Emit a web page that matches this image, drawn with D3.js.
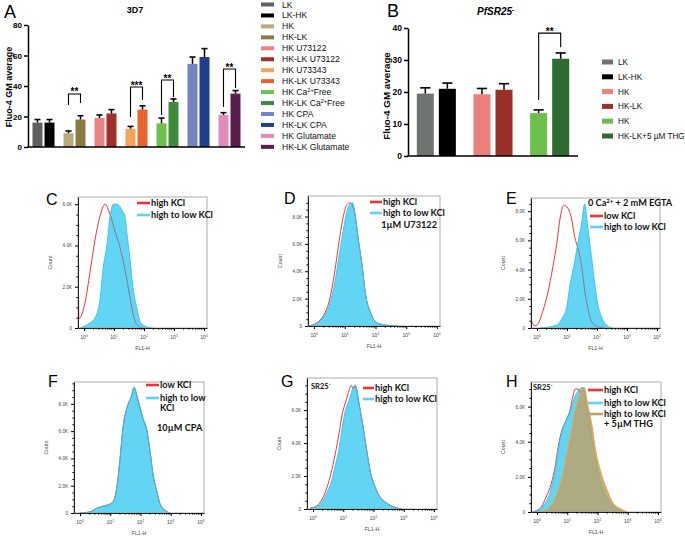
<!DOCTYPE html>
<html><head><meta charset="utf-8">
<script src="https://cdn.jsdelivr.net/npm/d3@7"></script>
<style>body{margin:0;background:#fff}svg{display:block}</style>
</head><body>
<script>
// ================= DATA =================
// Panel A (3D7)
const aLabels = ["LK","LK-HK","HK","HK-LK","HK U73122","HK-LK U73122","HK U73343","HK-LK U73343",
  "HK Ca^{2+}Free","HK-LK Ca^{2+}Free","HK CPA","HK-LK CPA","HK Glutamate","HK-LK Glutamate"];
const aMeans  = [16,16,9,18,19,22,12,24.5,15.5,29.5,54.5,59,21,35];
const aErrors = [2,2,1.5,2.5,2,2.5,1.5,2.5,3.5,2,4.5,5.5,1.5,2];
const aColors = ["#5d605e","#000000","#b9aa7c","#8b7b40","#e98480","#a0302a","#f5a25a","#e7642c",
  "#6ec14c","#3f8b3c","#7484c2","#1d3f8e","#de8cba","#5a1e4e"];
const aYTicks = [0,20,40,60,80];
const aSigPairs = [[2,3],[6,7],[8,9],[12,13]];
const aSigStars = ["**","***","**","**"];
const aSigTop = [34.8,39.3,43.9,51.1];
const aSigLeftEnd = [27.5,19.7,21,26.2];
const aSigRightEnd = [28.9,30.8,32.8,38.7];

// Panel B (PfSR25-)
const bLabels = ["LK","LK-HK","HK","HK-LK","HK","HK-LK+5 \u00b5M THG"];
const bMeans  = [19.5,21,19.3,20.7,13.4,30.4];
const bErrors = [1.8,1.8,1.8,1.9,1.0,1.8];
const bColors = ["#6f7471","#000000","#ea817c","#9b3028","#6dbf4b","#2e6b30"];
const bYTicks = [0,10,20,30,40];
const bSigPairs = [[4,5]];
const bSigStars = ["**"];
const bSigTop = [38.4];
const bSigLeftEnd = [17.5];
const bSigRightEnd = [34];

// Histograms: [log10(FL1-H), count in thousands]
const cHighKCl = [[-0.2,0],[-0.195,2.8],[-0.17,0.45],[0.03,1.2],[0.2,2.7],[0.37,4.3],[0.53,5.4],[0.7,6.0],[0.87,5.5],[1.03,4.7],[1.2,3.9],[1.37,2.8],[1.53,1.5],[1.63,0.7],[1.8,0.1],[1.97,0]];
const cHighToLow = [[-0.13,0],[0.2,0.25],[0.37,0.5],[0.53,1.35],[0.63,2.8],[0.77,4.1],[0.87,5.4],[0.97,6.0],[1.1,6.0],[1.27,5.7],[1.37,5.4],[1.43,4.6],[1.53,3.4],[1.63,2.0],[1.77,0.9],[1.87,0.3],[2.1,0.05],[2.3,0]];

const dHighKCl = [[-0.2,0],[0.1,0.25],[0.3,0.75],[0.5,1.9],[0.66,3.8],[0.75,5.2],[0.9,7.4],[1.05,8.8],[1.15,9.0],[1.25,8.8],[1.34,8.0],[1.44,6.3],[1.57,4.3],[1.67,2.4],[1.84,0.95],[2.07,0.2],[2.4,0.05],[2.72,0]];
const dHighToLow = [[-0.2,0],[0.1,0.2],[0.3,0.65],[0.52,1.7],[0.69,3.4],[0.79,4.8],[0.95,7.0],[1.11,8.7],[1.25,9.0],[1.34,8.1],[1.44,6.3],[1.57,4.3],[1.67,2.4],[1.84,0.95],[2.07,0.2],[2.4,0.05],[2.72,0]];

const eLowKCl = [[-0.2,0],[-0.195,0.5],[-0.1,0.15],[0,0.2],[0.2,1.2],[0.36,2.4],[0.53,4.2],[0.66,5.8],[0.76,7.4],[0.89,8.4],[1.03,8.2],[1.16,7.4],[1.26,6.2],[1.36,5.5],[1.49,4.2],[1.59,2.6],[1.69,1.4],[1.85,0.35],[2.08,0.05],[2.25,0]];
const eHighToLow = [[0.1,0],[0.66,0.2],[0.76,0.4],[0.86,0.75],[0.99,1.4],[1.09,2.8],[1.26,4.6],[1.36,5.8],[1.49,7.2],[1.59,8.5],[1.69,6.9],[1.82,4.8],[1.92,3.1],[2.02,1.7],[2.15,0.75],[2.32,0.2],[2.52,0]];

const fLowKCl = [[0,0],[0.33,0.08],[0.56,0.36],[0.76,0.5],[0.99,0.66],[1.09,0.82],[1.22,1.95],[1.32,3.9],[1.42,6.2],[1.55,7.7],[1.69,8.5],[1.79,9.2],[1.88,8.6],[1.98,7.7],[2.08,6.9],[2.21,6.0],[2.31,4.6],[2.41,2.9],[2.55,1.5],[2.64,0.7],[2.81,0.2],[2.98,0]];
const fHighToLow = [[0,0],[0.33,0.07],[0.56,0.35],[0.76,0.5],[0.99,0.65],[1.09,0.8],[1.22,1.9],[1.32,3.9],[1.42,6.3],[1.55,7.7],[1.69,8.5],[1.79,9.2],[1.88,8.6],[1.98,7.8],[2.08,7.0],[2.21,6.1],[2.31,4.6],[2.41,2.9],[2.55,1.5],[2.64,0.7],[2.81,0.2],[2.98,0]];

const gHighKCl = [[-0.1,0.05],[0.13,0.2],[0.3,0.6],[0.46,1.3],[0.6,2.2],[0.73,3.3],[0.86,4.6],[0.96,5.7],[1.06,6.4],[1.16,7.0],[1.26,7.5],[1.33,7.3],[1.4,7.5],[1.5,6.6],[1.6,5.6],[1.68,4.7],[1.78,3.5],[1.88,2.4],[2.05,1.35],[2.21,0.75],[2.44,0.35],[2.71,0.1],[2.94,0]];
const gHighToLow = [[-0.1,0.05],[0.13,0.15],[0.3,0.45],[0.46,1.0],[0.63,1.8],[0.73,2.6],[0.86,3.65],[0.96,4.9],[1.06,5.9],[1.19,6.6],[1.29,7.2],[1.39,7.5],[1.45,7.2],[1.55,6.1],[1.68,4.7],[1.78,3.5],[1.88,2.4],[2.05,1.35],[2.21,0.75],[2.44,0.35],[2.71,0.1],[2.94,0]];

const hHighKCl = [[-0.2,0],[0.1,0.2],[0.26,0.7],[0.43,1.4],[0.6,2.6],[0.7,3.7],[0.83,4.7],[0.93,5.1],[1.09,5.8],[1.19,6.6],[1.26,7.0],[1.36,7.0],[1.42,6.8],[1.52,7.0],[1.62,6.2],[1.75,4.9],[1.85,3.7],[1.99,2.4],[2.19,1.25],[2.42,0.5],[2.65,0.2],[2.91,0]];
const hHighToLow = [[-0.2,0],[0.1,0.15],[0.26,0.5],[0.43,1.1],[0.6,2.4],[0.76,4.1],[0.93,5.1],[1.09,5.7],[1.26,6.6],[1.42,7.0],[1.49,7.1],[1.56,6.9],[1.66,6.0],[1.79,4.7],[1.89,3.5],[2.02,2.3],[2.22,1.15],[2.45,0.45],[2.68,0.15],[2.94,0]];
const hHighToLowTHG = [[0.1,0],[0.43,0.3],[0.66,1.1],[0.83,2.0],[0.99,3.4],[1.16,4.9],[1.32,6.2],[1.49,7.0],[1.56,7.1],[1.69,6.0],[1.82,4.9],[1.92,3.7],[2.09,2.4],[2.32,1.25],[2.52,0.5],[2.75,0.2],[2.98,0]];

const histXTicks = [0,1,2,3,4];        // exponents of 10
const histYTicks = [0,2,4,6,8];        // thousands

// ================= DRAWING =================
const svg = d3.select("body").append("svg").attr("width",685).attr("height",540)
  .style("font-family","'Liberation Sans', Arial, sans-serif");
const defs = svg.append("defs");

function rich(sel, str){
  str.split(/(\^\{[^}]*\})/).forEach(p=>{
    if(!p) return;
    if(p.startsWith("^{")) sel.append("tspan").attr("baseline-shift","super").attr("font-size","65%").text(p.slice(2,-1));
    else sel.append("tspan").text(p);
  });
  return sel;
}

function barPanel(o){
  const g = svg.append("g");
  const groups = d3.range(o.means.length/2);
  const x0 = d3.scaleBand().domain(groups).range(o.xr);
  const x1 = d3.scaleBand().domain([0,1]).range([0,x0.bandwidth()]).paddingInner(o.pin).paddingOuter(o.pout);
  const y = d3.scaleLinear().domain(o.ydom).range(o.yr);
  const bx = i => x0(Math.floor(i/2)) + x1(i%2);
  const bw = x1.bandwidth();
  g.selectAll("rect.bar").data(o.means).join("rect").attr("class","bar")
    .attr("x",(d,i)=>bx(i)).attr("y",d=>y(d)).attr("width",bw).attr("height",d=>y(0)-y(d))
    .attr("fill",(d,i)=>o.colors[i]);
  const eb = g.selectAll("g.err").data(o.means).join("g").attr("class","err");
  eb.append("line").attr("x1",(d,i)=>bx(i)+bw/2).attr("x2",(d,i)=>bx(i)+bw/2)
    .attr("y1",d=>y(d)).attr("y2",(d,i)=>y(d+o.errors[i])).attr("stroke","#000").attr("stroke-width",1.5);
  eb.append("line").attr("x1",(d,i)=>bx(i)+bw*0.2).attr("x2",(d,i)=>bx(i)+bw*0.8)
    .attr("y1",(d,i)=>y(d+o.errors[i])).attr("y2",(d,i)=>y(d+o.errors[i])).attr("stroke","#000").attr("stroke-width",1.6);
  // axes
  const ax = g.append("g").attr("transform",`translate(${o.xr[0]},0)`)
    .call(d3.axisLeft(y).tickValues(o.yticks).tickSize(4).tickSizeOuter(0).tickPadding(2));
  ax.select(".domain").attr("stroke-width",1.5);
  ax.selectAll(".tick line").attr("stroke-width",1.5);
  ax.selectAll("text").attr("font-size",o.tickFont).attr("font-weight","bold").attr("font-family","'Liberation Sans', Arial");
  g.append("line").attr("x1",o.xr[0]-0.75).attr("x2",o.xr[1]).attr("y1",y(0)).attr("y2",y(0))
    .attr("stroke","#000").attr("stroke-width",1.5);
  // significance
  o.sigPairs.forEach((pr,k)=>{
    const xl = bx(pr[0])+bw/2, xr = bx(pr[1])+bw/2, yt = y(o.sigTop[k]);
    g.append("path").attr("d",`M${xl},${y(o.sigLeft[k])}V${yt}H${xr}V${y(o.sigRight[k])}`)
      .attr("fill","none").attr("stroke","#000").attr("stroke-width",1.1);
    g.append("text").attr("x",(xl+xr)/2).attr("y",yt+1.5).attr("text-anchor","middle")
      .attr("font-size",10).attr("font-weight","bold").text(o.sigStars[k]);
  });
  // y label
  g.append("text").attr("transform",`translate(${o.ylabX},${o.ylabY}) rotate(-90)`).attr("text-anchor","middle")
    .attr("font-size",o.ylabFont).attr("font-weight","bold").text("Fluo-4 GM average");
  // legend
  const lg = g.selectAll("g.leg").data(o.labels).join("g").attr("class","leg")
    .attr("transform",(d,i)=>`translate(${o.legX},${o.legY + i*o.legStep})`);
  lg.append("rect").attr("x",0).attr("y",-o.swH/2).attr("width",o.swW).attr("height",o.swH).attr("fill",(d,i)=>o.colors[i]);
  lg.append("text").attr("x",o.legTextDx).attr("y",3).attr("font-size",o.legFont).attr("fill","#111")
    .each(function(d){ rich(d3.select(this), d); });
}

barPanel({means:aMeans, errors:aErrors, colors:aColors, labels:aLabels, xr:[28,245], pin:1/6, pout:0.375,
  ydom:[0,80], yr:[147,25], yticks:aYTicks, tickFont:8,
  sigPairs:aSigPairs, sigStars:aSigStars, sigTop:aSigTop, sigLeft:aSigLeftEnd, sigRight:aSigRightEnd,
  ylabX:12, ylabY:87, ylabFont:9, legX:261, legY:4.5, legStep:10.95, swW:13, swH:4, legTextDx:21, legFont:8.6});

barPanel({means:bMeans, errors:bErrors, colors:bColors, labels:bLabels, xr:[408,578], pin:0.227, pout:0.4,
  ydom:[0,40], yr:[156,28], yticks:bYTicks, tickFont:8.5,
  sigPairs:bSigPairs, sigStars:bSigStars, sigTop:bSigTop, sigLeft:bSigLeftEnd, sigRight:bSigRightEnd,
  ylabX:390, ylabY:96, ylabFont:9.8, legX:602, legY:62, legStep:14.8, swW:11, swH:5, legTextDx:16, legFont:8.2});

// titles & letters
svg.append("text").attr("x",4).attr("y",18).attr("font-size",18).text("A");
svg.append("text").attr("x",387).attr("y",17).attr("font-size",18).text("B");
svg.append("text").attr("x",135).attr("y",13).attr("text-anchor","middle").attr("font-size",9).attr("font-weight","bold").text("3D7");
rich(svg.append("text").attr("x",477).attr("y",15).attr("font-size",10).attr("font-weight","bold").attr("font-style","italic"), "PfSR25^{-}");

// ---------- histograms ----------
const red="#ee3535", cyanFill="#5bd3f3", cyanLine="#34c2e8", grayLine="#7f7f90", tanFill="#b8a572", tanLine="#f2a646";
const legFontFam = "'Liberation Sans Narrow','Lato','Liberation Sans',sans-serif";

function histPanel(p){
  const g = svg.append("g");
  const xs = d3.scaleLog().domain([Math.pow(10,-0.2), Math.pow(10,4.1)]).range([p.x0,p.x1]);
  const ys = d3.scaleLinear().domain([0,p.ymax]).range([p.y1,p.y0]);
  const fx = d => xs(Math.pow(10,d[0]));
  const line = d3.line().x(fx).y(d=>ys(d[1])).curve(d3.curveMonotoneX);
  const area = d3.area().x(fx).y0(ys(0)).y1(d=>ys(d[1])).curve(d3.curveMonotoneX);
  const cid = "clip"+p.letter;
  defs.append("clipPath").attr("id",cid).append("rect").attr("x",p.x0).attr("y",p.y0-3).attr("width",p.x1-p.x0).attr("height",p.y1-p.y0+3);
  const aid = "area"+p.letter;
  defs.append("clipPath").attr("id",aid).append("path").attr("d",area(p.cyan));
  const plot = g.append("g").attr("clip-path",`url(#${cid})`);
  plot.append("path").attr("d",line(p.red)).attr("fill","none").attr("stroke",red).attr("stroke-width",1);
  plot.append("path").attr("d",area(p.cyan)).attr("fill",cyanFill).attr("opacity",0.95);
  plot.append("g").attr("clip-path",`url(#${aid})`).append("path").attr("d",line(p.red))
    .attr("fill","none").attr("stroke",grayLine).attr("stroke-width",1);
  plot.append("path").attr("d",line(p.cyan)).attr("fill","none").attr("stroke",cyanLine).attr("stroke-width",0.9);
  if(p.tan){
    plot.append("path").attr("d",area(p.tan)).attr("fill",tanFill).attr("opacity",0.88);
    plot.append("path").attr("d",line(p.tan)).attr("fill","none").attr("stroke",tanLine).attr("stroke-width",1);
  }
  // frame
  g.append("rect").attr("x",p.x0).attr("y",p.y0).attr("width",p.x1-p.x0).attr("height",p.y1-p.y0)
    .attr("fill","none").attr("stroke","#9a9a9a").attr("stroke-width",0.8);
  // y axis
  const yt = histYTicks.filter(v=>v<=p.ymax);
  const minorY = d3.range(0,p.ymax,0.5).filter(v=>v%2!==0);
  const ya = g.append("g").attr("transform",`translate(${p.x0},0)`)
    .call(d3.axisLeft(ys).tickValues(yt).tickSize(3).tickSizeOuter(0).tickPadding(3)
      .tickFormat(v=> v===0?"0":v.toFixed(1)+"K"));
  ya.select(".domain").attr("stroke","#222");
  ya.selectAll("text").attr("font-size",4.6).attr("fill","#444");
  g.append("g").attr("transform",`translate(${p.x0},0)`)
    .call(d3.axisLeft(ys).tickValues(minorY).tickSize(1.6).tickSizeOuter(0).tickFormat(""))
    .select(".domain").remove();
  // x axis
  const xa = g.append("g").attr("transform",`translate(0,${p.y1})`)
    .call(d3.axisBottom(xs).tickValues(histXTicks.map(e=>Math.pow(10,e))).tickSize(3).tickSizeOuter(0).tickFormat(""));
  xa.select(".domain").attr("stroke","#222");
  const minorX = [];
  histXTicks.slice(0,-1).forEach(e=>{ for(let m=2;m<10;m++) minorX.push(m*Math.pow(10,e)); });
  g.append("g").attr("transform",`translate(0,${p.y1})`)
    .call(d3.axisBottom(xs).tickValues(minorX).tickSize(1.6).tickSizeOuter(0).tickFormat(""))
    .select(".domain").remove();
  histXTicks.forEach(e=>{
    rich(g.append("text").attr("x",xs(Math.pow(10,e))).attr("y",p.y1+11).attr("text-anchor","middle")
      .attr("font-size",5).attr("fill","#444"), "10^{"+e+"}");
  });
  g.append("text").attr("x",(p.x0+p.x1)/2).attr("y",p.y1+22).attr("text-anchor","middle")
    .attr("font-size",5.2).attr("fill","#444").text("FL1-H");
  g.append("text").attr("transform",`translate(${p.x0-26},${(p.y0+p.y1)/2}) rotate(-90)`).attr("text-anchor","middle")
    .attr("font-size",5.2).attr("fill","#444").text("Count");
  // panel letter
  g.append("text").attr("x",p.lx).attr("y",p.ly).attr("font-size",16).text(p.letter);
  // legend
  p.legend.forEach(it=>{
    if(it.c) g.append("line").attr("x1",it.lx[0]).attr("x2",it.lx[1]).attr("y1",it.y-3).attr("y2",it.y-3)
      .attr("stroke",it.c).attr("stroke-width",2.6);
    const t = g.append("text").attr("x",it.x).attr("y",it.y).attr("font-size",it.fs||9.2).attr("font-weight","bold")
      .attr("font-family",legFontFam).attr("fill","#111").attr("text-anchor",it.anchor||"start");
    rich(t, it.t);
  });
}

histPanel({letter:"C", x0:78, x1:207, y0:197, y1:328, ymax:6.35, red:cHighKCl, cyan:cHighToLow, lx:46, ly:205,
  legend:[{c:red,lx:[137,150],x:151,y:206,t:"high KCl"},{c:cyanFill,lx:[137,150],x:151,y:218,t:"high to low KCl"}]});
histPanel({letter:"D", x0:308, x1:440, y0:196, y1:326, ymax:9.5, red:dHighKCl, cyan:dHighToLow, lx:284, ly:204,
  legend:[{c:red,lx:[370,382],x:383,y:205,t:"high KCl"},{c:cyanFill,lx:[370,382],x:383,y:216,t:"high to low KCl"},
          {x:437,y:228,t:"1\u00b5M U73122",anchor:"end"}]});
histPanel({letter:"E", x0:531, x1:660, y0:198, y1:328, ymax:8.9, red:eLowKCl, cyan:eHighToLow, lx:506, ly:204,
  legend:[{x:588,y:206,t:"0 Ca^{2+} + 2 mM EGTA"},{c:red,lx:[590,603],x:604,y:219,t:"low KCl"},
          {c:cyanFill,lx:[590,603],x:604,y:230,t:"high to low KCl"}]});
histPanel({letter:"F", x0:74, x1:204, y0:382, y1:513, ymax:9.6, red:fLowKCl, cyan:fHighToLow, lx:48, ly:387,
  legend:[{c:red,lx:[146,159],x:160,y:388,t:"low KCl"},{c:cyanFill,lx:[146,159],x:160,y:401,t:"high to low"},
          {x:160,y:411,t:"KCl"},{x:157,y:431,t:"10\u00b5M CPA"}]});
histPanel({letter:"G", x0:307, x1:437, y0:378, y1:509, ymax:7.95, red:gHighKCl, cyan:gHighToLow, lx:281, ly:387,
  legend:[{x:311,y:389,t:"SR25^{-}",fs:7.5},{c:red,lx:[363,374],x:375,y:391,t:"high KCl"},
          {c:cyanFill,lx:[363,374],x:375,y:402,t:"high to low KCl"}]});
histPanel({letter:"H", x0:531, x1:661, y0:382, y1:512, ymax:7.4, red:hHighKCl, cyan:hHighToLow, tan:hHighToLowTHG, lx:506, ly:387,
  legend:[{x:533,y:390,t:"SR25^{-}",fs:7.5},{c:red,lx:[588,603],x:604,y:393,t:"high KCl"},
          {c:cyanFill,lx:[588,603],x:604,y:406,t:"high to low KCl"},{c:tanFill,lx:[588,603],x:604,y:417,t:"high to low KCl"},
          {x:604,y:427,t:"+ 5\u00b5M THG"}]});
</script>
</body></html>
